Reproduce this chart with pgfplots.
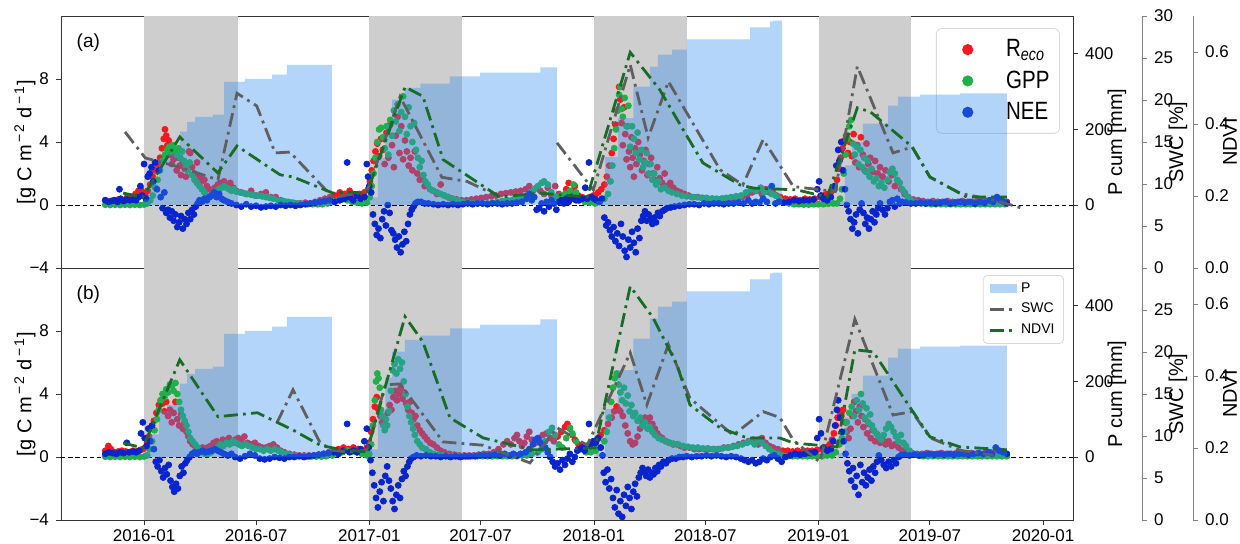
\documentclass[border=0pt]{standalone}
\usepackage{fontspec}
\setmainfont{Liberation Sans}
\usepackage{graphicx}
\usepackage{pgfplots}
\usepackage{pgfplotstable}
\pgfplotsset{compat=1.18}
\definecolor{creco}{RGB}{250,22,30}
\definecolor{cgpp}{RGB}{32,175,75}
\definecolor{cnee}{RGB}{8,36,205}
\definecolor{cp}{RGB}{50,140,240}
\definecolor{cshade}{RGB}{206,206,206}
\definecolor{cswc}{RGB}{95,95,98}
\definecolor{cndvi}{RGB}{25,108,38}
\newcommand{\tfont}{\fontsize{8.5}{10}\selectfont}
\newcommand{\lfont}{\fontsize{9.5}{11}\selectfont}
\newcommand{\lgt}[1]{\scalebox{0.82}[1]{#1}}

\pgfplotstableread[row sep=\\]{d v\\
-63 0.3\\-56 0.2\\-49 0.3\\-42 0.35\\-35 0.3\\-28 0.45\\-21 0.5\\-14 0.7\\-9 0.9\\-5 1.0\\-2 0.8\\2 0.6\\6 0.9\\10 1.3\\14 1.8\\18 2.2\\22 2.6\\26 3.0\\29 3.6\\32 4.2\\34 4.8\\36 4.4\\38 3.8\\40 4.1\\42 3.2\\45 2.6\\48 2.9\\50 3.3\\53 2.2\\56 3.0\\58 2.5\\60 1.9\\63 2.8\\66 2.3\\68 1.8\\70 2.6\\73 3.4\\75 3.3\\78 2.4\\82 2.0\\86 2.7\\90 1.8\\94 1.5\\98 1.6\\102 1.2\\106 1.0\\110 0.9\\115 1.1\\120 1.3\\125 1.4\\130 1.5\\135 1.2\\140 1.4\\145 1.1\\150 0.9\\158 0.8\\166 0.7\\174 0.9\\182 0.6\\190 0.7\\198 0.8\\206 0.5\\214 0.5\\222 0.3\\230 0.2\\238 0.15\\246 0.1\\254 0.1\\262 0.15\\270 0.1\\278 0.2\\286 0.3\\294 0.4\\302 0.5\\310 0.6\\318 0.8\\326 0.7\\334 0.9\\342 0.6\\350 0.7\\358 0.8\\364 1.0\\
367 1.5\\370 2.2\\373 2.8\\376 3.4\\379 3.9\\382 3.1\\385 4.2\\388 3.5\\391 2.6\\394 4.6\\397 3.0\\400 5.1\\403 3.8\\406 2.4\\409 4.4\\412 5.6\\415 3.3\\418 5.0\\421 2.9\\424 4.1\\427 3.4\\430 2.5\\433 3.0\\436 2.2\\440 3.4\\444 2.0\\448 1.6\\452 1.8\\456 1.2\\460 1.3\\465 1.0\\470 0.9\\476 0.7\\482 1.3\\488 0.6\\494 0.5\\500 0.4\\508 0.35\\516 0.3\\524 0.3\\532 0.35\\540 0.4\\548 0.45\\556 0.5\\564 0.55\\572 0.6\\580 0.7\\588 0.75\\596 0.8\\604 0.85\\612 0.9\\620 1.0\\626 1.2\\632 0.9\\638 1.1\\644 0.9\\650 0.7\\656 1.1\\662 0.6\\668 1.2\\674 0.7\\680 0.5\\686 1.0\\690 1.4\\695 0.9\\700 1.2\\706 0.6\\712 0.5\\718 0.4\\724 0.5\\730 0.6\\
733 0.6\\738 0.8\\743 1.0\\748 1.3\\752 1.8\\756 2.5\\760 3.3\\763 4.2\\766 5.1\\769 6.0\\772 7.5\\774 6.7\\776 5.2\\778 3.8\\780 6.2\\782 4.5\\784 2.9\\786 5.0\\788 3.4\\790 2.4\\792 4.3\\794 3.0\\796 1.8\\798 3.6\\800 2.6\\803 4.0\\806 3.2\\809 2.2\\812 2.8\\815 3.5\\818 1.9\\821 2.6\\824 3.0\\827 2.0\\830 1.6\\834 2.4\\838 1.7\\842 1.4\\846 2.0\\850 1.2\\855 1.4\\860 1.1\\866 0.9\\872 0.8\\878 0.7\\885 0.6\\892 0.5\\900 0.5\\908 0.45\\916 0.4\\924 0.4\\932 0.35\\940 0.4\\948 0.35\\956 0.4\\964 0.4\\972 0.5\\980 0.6\\988 0.8\\996 0.9\\1004 0.7\\1010 1.0\\1016 0.8\\1022 0.9\\1028 0.6\\1034 0.5\\1042 0.4\\1050 0.35\\1058 0.4\\1066 0.3\\1074 0.4\\1082 0.35\\1090 0.4\\1098 0.5\\1104 0.6\\1110 0.7\\1116 0.8\\1122 1.0\\1126 1.6\\1129 2.3\\1132 3.0\\1135 3.6\\1138 4.1\\1141 4.4\\1144 3.3\\1147 4.0\\1150 3.1\\1153 4.5\\1156 2.7\\1159 3.8\\1162 2.4\\1165 4.3\\1168 3.2\\1171 2.2\\1174 3.9\\1177 2.6\\1180 3.0\\1184 2.1\\1188 2.8\\1192 2.0\\1196 2.4\\1200 1.8\\1205 2.2\\1210 1.5\\1215 1.9\\1220 1.2\\1225 1.5\\1230 1.0\\1236 0.7\\1242 0.5\\1250 0.35\\1258 0.3\\1266 0.25\\1274 0.2\\1282 0.25\\1290 0.2\\1298 0.2\\1306 0.25\\1314 0.2\\1322 0.2\\1330 0.25\\1338 0.2\\1346 0.2\\1354 0.25\\1362 0.2\\1370 0.25\\1378 0.3\\1386 0.25\\1394 0.3\\1402 0.2\\
}\RA

\pgfplotstableread[row sep=\\]{d v\\
-63 0.02\\-55 0\\-47 0.02\\-39 0\\-31 0.02\\-23 0\\-15 0.02\\-7 0\\0 0.03\\5 0.1\\10 0.3\\14 0.6\\18 1.1\\22 1.6\\26 2.2\\30 2.8\\34 3.2\\38 3.5\\41 3.7\\44 3.4\\47 3.8\\50 3.5\\53 3.2\\56 3.6\\59 3.0\\62 3.4\\65 2.8\\68 2.5\\71 2.2\\74 2.7\\78 1.9\\82 1.6\\86 1.4\\90 1.2\\94 1.0\\98 0.8\\102 0.6\\106 0.5\\110 0.6\\114 0.8\\118 0.9\\122 1.0\\126 1.1\\130 1.2\\134 1.1\\138 1.0\\142 0.9\\146 1.0\\150 0.85\\156 0.8\\162 0.75\\168 0.7\\174 0.65\\180 0.6\\186 0.6\\192 0.55\\198 0.5\\204 0.45\\210 0.4\\218 0.3\\226 0.25\\234 0.2\\242 0.15\\250 0.1\\258 0.08\\266 0.05\\274 0.05\\282 0.05\\290 0.05\\298 0.1\\306 0.2\\314 0.3\\322 0.35\\330 0.3\\338 0.2\\346 0.15\\354 0.1\\362 0.15\\
367 0.5\\370 1.2\\373 2.0\\376 3.0\\379 4.0\\382 4.8\\385 4.9\\388 4.3\\391 3.6\\394 5.0\\397 3.2\\400 5.4\\403 4.4\\406 6.0\\409 5.3\\412 6.4\\415 4.7\\418 5.9\\421 6.9\\424 5.6\\427 4.5\\430 6.2\\433 5.0\\436 4.0\\439 5.2\\442 3.5\\445 3.0\\448 2.4\\451 2.8\\454 1.9\\457 1.5\\461 1.3\\465 1.0\\470 0.9\\476 0.8\\482 0.7\\488 0.6\\494 0.5\\502 0.4\\510 0.3\\518 0.2\\526 0.15\\534 0.1\\542 0.1\\550 0.1\\558 0.1\\566 0.15\\574 0.2\\582 0.25\\590 0.3\\598 0.3\\606 0.35\\614 0.4\\622 0.5\\628 0.8\\634 1.0\\640 1.2\\646 1.4\\650 1.5\\656 1.3\\662 0.8\\668 0.5\\676 0.6\\684 0.7\\692 0.9\\698 1.3\\702 0.8\\708 0.3\\716 0.2\\724 0.15\\
733 0.1\\741 0.2\\748 0.4\\754 0.7\\758 1.5\\761 2.5\\764 3.6\\767 4.8\\770 6.0\\772 7.0\\774 7.5\\776 6.1\\778 5.6\\781 6.8\\784 5.0\\787 6.3\\790 3.7\\793 5.0\\796 4.2\\799 3.3\\802 4.6\\805 2.9\\808 3.5\\811 2.4\\814 2.7\\817 3.3\\820 2.0\\823 2.6\\826 1.6\\829 2.0\\832 1.3\\836 1.5\\840 1.0\\846 1.1\\852 0.9\\858 0.8\\866 0.7\\874 0.6\\882 0.55\\890 0.5\\898 0.5\\906 0.45\\914 0.45\\922 0.4\\930 0.4\\938 0.4\\946 0.45\\954 0.5\\962 0.55\\970 0.6\\978 0.8\\986 1.0\\994 0.9\\1002 1.1\\1008 0.8\\1014 1.0\\1020 0.7\\1026 0.6\\1032 0.4\\1040 0.2\\1048 0.1\\1056 0.05\\1064 0.05\\1072 0.03\\1080 0.03\\1088 0.05\\1096 0.05\\1104 0.05\\1112 0.08\\1120 0.1\\1126 0.1\\1131 0.4\\1134 1.0\\1137 2.0\\1140 3.2\\1143 4.2\\1146 5.0\\1149 5.4\\1152 3.9\\1155 3.2\\1158 3.7\\1161 2.6\\1164 3.5\\1167 2.4\\1170 3.0\\1173 2.1\\1176 2.8\\1179 1.8\\1182 2.3\\1186 1.5\\1190 1.7\\1194 1.2\\1198 1.4\\1203 1.1\\1208 1.6\\1212 2.1\\1216 2.3\\1220 2.0\\1224 1.6\\1228 1.4\\1232 1.0\\1236 0.8\\1241 0.5\\1247 0.3\\1255 0.15\\1263 0.1\\1271 0.08\\1279 0.05\\1287 0.05\\1295 0.05\\1303 0.05\\1311 0.05\\1319 0.05\\1327 0.05\\1335 0.05\\1343 0.05\\1351 0.05\\1359 0.05\\1367 0.05\\1375 0.05\\1383 0.05\\1391 0.05\\1399 0.05\\
}\GA

\pgfplotstableread[row sep=\\]{d v\\
-63 0.3\\-58 0.2\\-53 0.25\\-48 0.3\\-43 0.2\\-40 1.0\\-38 0.4\\-33 0.25\\-28 0.35\\-23 0.3\\-18 0.35\\-13 0.3\\-9 0.5\\-6 1.2\\-3 0.6\\0 2.6\\3 0.4\\6 1.8\\9 2.0\\12 2.4\\15 1.5\\18 2.7\\21 1.0\\24 2.2\\27 0.5\\30 -0.2\\33 0.8\\36 -0.5\\39 -0.3\\42 -0.8\\45 -0.4\\48 -1.0\\51 -0.6\\54 -1.4\\57 -1.1\\60 -0.7\\63 -1.5\\66 -0.9\\69 -1.2\\72 -0.5\\75 -0.9\\78 -0.3\\81 -0.6\\84 -0.1\\87 0.1\\90 0.3\\94 0.2\\98 0.4\\102 0.3\\106 0.5\\110 0.6\\114 0.8\\118 0.5\\122 0.7\\126 0.4\\130 0.3\\136 0.2\\142 0.1\\150 0.0\\158 -0.1\\166 0.05\\174 -0.1\\182 -0.05\\190 -0.15\\198 -0.1\\206 -0.05\\214 -0.1\\222 0.0\\230 -0.05\\238 0.0\\246 -0.05\\254 0.0\\262 0.05\\270 0.1\\278 0.15\\286 0.2\\294 0.25\\302 0.3\\310 0.2\\318 0.3\\326 0.4\\330 2.7\\334 0.5\\340 0.3\\346 0.6\\352 0.4\\358 0.5\\362 2.6\\364 1.8\\366 1.2\\369 0.8\\
372 -0.6\\375 -1.2\\378 -1.9\\381 -1.5\\384 -2.1\\387 -0.9\\390 -0.4\\393 -1.3\\396 0.0\\399 -0.5\\402 -1.6\\405 -1.8\\408 -2.2\\411 -2.7\\414 -2.0\\417 -3.0\\420 -2.5\\423 -1.7\\426 -2.3\\429 -1.2\\432 -0.6\\435 -0.3\\438 -0.1\\441 0.1\\445 0.2\\450 0.2\\456 0.1\\462 0.1\\470 0.05\\478 0.0\\486 0.05\\494 0.0\\502 0.05\\510 0.0\\518 0.05\\526 0.1\\534 0.05\\542 0.1\\550 0.1\\558 0.05\\566 0.1\\574 0.1\\582 0.05\\590 0.1\\598 0.1\\606 0.15\\614 0.2\\622 0.4\\626 0.7\\630 0.3\\634 0.5\\638 -0.3\\642 -0.2\\646 0.1\\650 -0.4\\654 0.2\\658 -0.1\\662 0.3\\666 0.1\\670 -0.3\\674 0.2\\678 0.3\\682 0.1\\686 0.4\\690 0.2\\694 0.5\\698 0.4\\702 0.3\\706 0.3\\712 0.4\\717 1.1\\720 0.4\\723 2.7\\727 0.5\\731 0.4\\735 0.3\\740 0.2\\744 0.4\\
748 -0.8\\751 -1.3\\754 -1.1\\757 -1.6\\760 -2.0\\763 -1.4\\766 -2.3\\769 -1.8\\772 -2.6\\775 -1.2\\778 -2.0\\781 -2.9\\784 -3.3\\787 -2.2\\790 -2.7\\793 -1.7\\796 -2.4\\799 -3.0\\802 -1.5\\805 -2.1\\808 -1.0\\811 -0.7\\814 -0.4\\817 -1.0\\820 -0.6\\823 -0.9\\826 -1.2\\829 -0.8\\832 -1.1\\835 -0.5\\838 -0.7\\842 -0.4\\846 -0.3\\850 -0.2\\856 -0.15\\862 -0.1\\870 -0.05\\878 0.0\\886 0.05\\894 0.05\\902 0.0\\910 0.1\\918 0.05\\926 0.1\\934 0.1\\942 0.05\\950 0.1\\958 0.1\\966 0.15\\974 0.1\\982 0.3\\988 0.1\\994 0.2\\1000 0.15\\1006 0.4\\1012 0.2\\1020 1.2\\1026 0.1\\1032 0.2\\1040 0.15\\1048 0.2\\1056 0.3\\1064 0.25\\1072 0.3\\1080 0.3\\1088 0.35\\1094 1.0\\1097 1.5\\1100 0.6\\1104 0.4\\1110 0.3\\1116 0.5\\1122 1.2\\1125 2.5\\1128 3.5\\1130 2.8\\1133 4.0\\1136 2.2\\1139 1.0\\1142 0.0\\1145 -0.4\\1148 -0.9\\1151 -1.5\\1154 -1.1\\1157 -0.6\\1160 -1.8\\1163 -0.3\\1166 0.1\\1169 -0.5\\1172 -1.2\\1175 -0.8\\1178 -1.5\\1181 -0.9\\1184 -0.4\\1187 -1.1\\1190 -0.6\\1193 -0.2\\1196 0.1\\1200 -0.3\\1204 -0.6\\1208 -0.2\\1212 0.2\\1216 0.3\\1220 -0.1\\1224 0.4\\1228 0.1\\1232 0.2\\1238 0.15\\1246 0.1\\1254 0.1\\1262 0.15\\1270 0.1\\1278 0.15\\1286 0.1\\1294 0.15\\1302 0.2\\1310 0.1\\1318 0.15\\1326 0.2\\1334 0.15\\1342 0.2\\1350 0.1\\1358 0.2\\1366 0.15\\1374 0.3\\1380 0.2\\1386 0.5\\1392 0.3\\1398 0.2\\1402 0.1\\
}\NA

\pgfplotstableread[row sep=\\]{d v\\
-63 0.4\\-58 0.7\\-54 0.5\\-48 0.3\\-42 0.35\\-36 0.4\\-30 0.35\\-24 0.3\\-18 0.4\\-12 0.35\\-6 0.45\\-2 0.5\\2 0.6\\5 0.9\\8 1.3\\12 1.8\\16 2.3\\20 2.8\\24 3.3\\27 3.6\\30 3.4\\33 2.9\\36 3.5\\39 2.6\\42 3.0\\45 2.2\\48 2.8\\51 3.5\\54 2.4\\57 2.0\\60 2.7\\63 1.8\\66 2.2\\69 1.6\\72 1.3\\75 1.0\\79 0.8\\83 0.7\\87 0.5\\91 0.5\\95 0.6\\99 0.5\\103 0.6\\108 0.7\\113 0.9\\118 1.0\\123 0.9\\128 1.1\\133 1.0\\138 1.2\\143 0.9\\148 1.1\\153 1.2\\158 1.0\\163 1.3\\168 0.9\\174 0.8\\180 0.9\\186 0.7\\192 0.6\\198 0.6\\204 0.7\\210 0.8\\216 0.6\\222 0.4\\228 0.3\\236 0.2\\244 0.15\\252 0.1\\260 0.1\\268 0.1\\276 0.1\\284 0.15\\292 0.2\\300 0.3\\308 0.4\\316 0.5\\324 0.6\\332 0.5\\340 0.6\\348 0.5\\356 0.4\\362 0.6\\
366 0.9\\369 1.6\\372 2.4\\375 3.2\\378 3.8\\381 3.0\\384 2.6\\387 2.2\\390 2.5\\393 2.0\\396 2.8\\399 3.3\\402 3.0\\405 3.8\\408 4.2\\411 3.6\\414 4.0\\417 4.4\\420 3.7\\423 4.1\\426 3.4\\429 3.0\\432 3.5\\435 2.8\\438 2.4\\441 2.6\\444 2.0\\448 1.7\\452 1.5\\456 1.3\\460 1.1\\465 0.9\\470 0.8\\476 0.6\\482 0.4\\488 0.3\\496 0.2\\504 0.15\\512 0.1\\520 0.1\\528 0.1\\536 0.1\\544 0.15\\552 0.2\\560 0.2\\568 0.3\\576 0.5\\584 0.8\\590 1.0\\596 0.8\\602 1.2\\606 1.4\\610 1.0\\614 0.7\\618 0.9\\622 1.3\\626 1.6\\630 1.1\\636 0.9\\642 1.1\\648 1.4\\654 1.5\\660 1.2\\666 1.0\\672 1.3\\678 1.6\\684 1.9\\688 2.1\\692 1.8\\696 1.4\\700 1.1\\706 0.8\\712 0.7\\718 0.7\\724 0.8\\730 0.9\\
736 1.1\\742 1.4\\748 1.7\\754 2.1\\760 2.5\\764 2.9\\768 3.2\\771 3.0\\774 2.9\\778 2.6\\782 2.0\\786 1.5\\790 1.0\\794 0.8\\798 0.9\\802 1.3\\806 1.8\\810 2.2\\814 2.5\\818 2.3\\822 2.5\\826 2.1\\830 1.8\\834 1.5\\838 1.3\\842 1.2\\848 1.0\\854 0.9\\860 0.8\\866 0.8\\872 0.7\\878 0.6\\886 0.6\\894 0.5\\902 0.5\\910 0.5\\918 0.5\\926 0.5\\934 0.5\\942 0.6\\950 0.6\\958 0.7\\966 0.8\\974 0.9\\982 1.0\\990 1.1\\998 0.8\\1004 1.2\\1010 0.9\\1016 0.7\\1022 0.6\\1030 0.5\\1038 0.4\\1046 0.4\\1054 0.35\\1062 0.4\\1070 0.35\\1078 0.4\\1086 0.4\\1094 0.45\\1102 0.5\\1108 0.6\\1114 0.8\\1118 1.1\\1121 1.5\\1124 2.0\\1127 2.5\\1130 2.9\\1133 2.6\\1136 3.0\\1139 2.2\\1142 1.6\\1145 1.2\\1148 1.8\\1151 2.6\\1154 3.5\\1157 2.9\\1160 2.2\\1163 3.2\\1166 2.6\\1169 1.9\\1172 2.4\\1175 1.5\\1178 2.1\\1181 1.2\\1184 1.7\\1188 1.0\\1192 1.4\\1196 0.9\\1200 1.1\\1205 0.8\\1210 1.0\\1215 0.7\\1220 0.8\\1226 0.6\\1232 0.4\\1240 0.3\\1248 0.25\\1256 0.2\\1264 0.2\\1272 0.25\\1280 0.2\\1288 0.2\\1296 0.25\\1304 0.2\\1312 0.2\\1320 0.25\\1328 0.2\\1336 0.2\\1344 0.25\\1352 0.2\\1360 0.2\\1368 0.25\\1376 0.3\\1384 0.25\\1392 0.3\\1400 0.2\\
}\RB

\pgfplotstableread[row sep=\\]{d v\\
-63 0.02\\-55 0\\-47 0.02\\-39 0\\-31 0.02\\-23 0\\-15 0.02\\-7 0\\0 0.03\\5 0.1\\9 0.5\\13 1.0\\17 1.7\\21 2.4\\24 3.0\\27 3.6\\30 4.0\\33 3.8\\36 4.3\\39 4.1\\42 4.6\\45 4.5\\48 4.2\\51 4.7\\54 4.0\\57 3.5\\60 3.0\\63 2.6\\66 2.3\\69 2.0\\72 1.6\\75 1.2\\79 1.0\\83 0.8\\87 0.6\\91 0.4\\95 0.3\\99 0.2\\104 0.2\\109 0.3\\114 0.5\\119 0.6\\124 0.8\\129 0.7\\134 0.9\\139 0.8\\144 1.0\\149 0.9\\154 0.8\\159 0.7\\164 0.8\\170 0.7\\176 0.6\\182 0.5\\188 0.5\\194 0.4\\200 0.5\\206 0.4\\212 0.5\\218 0.4\\224 0.3\\232 0.2\\240 0.1\\248 0.05\\256 0.05\\264 0.03\\272 0.03\\280 0.03\\288 0.03\\296 0.05\\306 0.1\\314 0.2\\322 0.3\\330 0.4\\338 0.35\\346 0.3\\354 0.2\\362 0.1\\
366 0.2\\369 0.8\\372 2.0\\375 3.6\\377 4.8\\379 5.3\\381 5.0\\383 4.4\\385 3.0\\387 2.6\\389 2.0\\391 1.7\\393 2.4\\395 2.0\\398 2.9\\401 4.2\\404 5.5\\407 5.9\\410 5.3\\413 6.2\\416 5.6\\419 6.0\\422 4.8\\425 4.0\\428 3.2\\431 2.6\\434 2.2\\437 1.8\\440 1.4\\444 1.0\\448 0.8\\452 0.6\\458 0.5\\464 0.3\\470 0.2\\478 0.15\\486 0.1\\494 0.05\\502 0.05\\510 0.03\\518 0.03\\526 0.03\\534 0.05\\542 0.05\\550 0.05\\558 0.05\\566 0.05\\574 0.05\\582 0.05\\590 0.05\\598 0.05\\606 0.05\\614 0.1\\622 0.1\\630 0.2\\640 0.3\\646 0.5\\652 1.0\\658 1.6\\663 1.85\\668 1.4\\674 0.8\\680 0.6\\686 1.2\\692 1.85\\696 1.5\\702 1.0\\710 0.5\\718 0.3\\726 0.3\\734 0.4\\
742 0.6\\748 1.0\\752 1.6\\756 2.5\\759 3.5\\762 4.4\\765 5.0\\768 5.3\\771 4.6\\774 4.1\\777 3.6\\780 4.4\\783 3.4\\786 3.9\\789 2.9\\792 3.3\\795 2.6\\798 2.8\\802 2.3\\806 2.5\\810 2.0\\814 2.2\\818 1.8\\822 1.9\\826 1.6\\830 1.4\\836 1.2\\842 1.1\\848 1.0\\854 0.9\\860 0.85\\868 0.8\\876 0.7\\884 0.65\\892 0.6\\900 0.6\\908 0.55\\916 0.55\\924 0.5\\932 0.5\\940 0.55\\948 0.6\\956 0.65\\964 0.7\\972 0.8\\980 0.9\\986 1.0\\992 0.8\\998 1.1\\1004 0.9\\1010 0.7\\1016 0.5\\1022 0.3\\1030 0.2\\1038 0.1\\1046 0.05\\1054 0.05\\1062 0.05\\1070 0.05\\1078 0.05\\1086 0.05\\1094 0.05\\1102 0.05\\1110 0.1\\1118 0.1\\1124 0.3\\1130 0.8\\1134 1.2\\1138 1.6\\1142 2.2\\1146 2.8\\1150 3.2\\1154 2.6\\1158 3.6\\1162 3.0\\1165 4.0\\1168 3.4\\1171 2.5\\1174 3.1\\1177 2.2\\1180 2.7\\1183 2.0\\1186 1.7\\1190 1.5\\1194 1.3\\1198 1.1\\1202 1.4\\1206 1.8\\1210 2.1\\1214 1.9\\1218 1.6\\1222 1.3\\1226 1.0\\1230 1.4\\1234 0.9\\1238 0.7\\1244 0.4\\1250 0.2\\1258 0.1\\1266 0.05\\1274 0.05\\1282 0.05\\1290 0.05\\1298 0.05\\1306 0.05\\1314 0.05\\1322 0.05\\1330 0.05\\1338 0.05\\1346 0.05\\1354 0.05\\1362 0.05\\1370 0.05\\1378 0.05\\1386 0.05\\1394 0.05\\1402 0.05\\
}\GB

\pgfplotstableread[row sep=\\]{d v\\
-63 0.2\\-57 0.3\\-51 0.25\\-45 0.2\\-39 0.3\\-33 0.25\\-28 0.9\\-24 0.3\\-18 0.35\\-13 0.3\\-8 0.4\\-5 1.5\\-2 2.2\\1 1.2\\4 0.7\\7 1.8\\10 1.0\\13 2.0\\16 0.5\\19 -0.3\\22 -0.6\\25 -0.2\\28 -0.9\\31 -1.3\\34 -0.7\\37 -1.1\\40 -0.5\\43 -1.5\\46 -1.9\\49 -2.2\\52 -1.7\\55 -2.0\\58 -1.2\\61 -0.6\\64 -1.0\\67 -0.4\\70 -0.2\\74 0.0\\78 0.2\\82 0.3\\86 0.2\\90 0.3\\95 0.4\\100 0.3\\105 0.35\\110 0.4\\115 0.5\\120 0.4\\125 0.3\\130 0.2\\136 0.1\\142 0.2\\148 0.0\\156 -0.1\\164 0.05\\172 0.2\\180 0.1\\188 -0.1\\196 -0.15\\204 -0.1\\212 0.0\\220 -0.05\\228 -0.1\\236 0.0\\244 0.0\\252 0.05\\260 0.0\\268 0.05\\276 0.1\\284 0.15\\292 0.2\\300 0.25\\308 0.3\\316 0.2\\324 0.4\\330 2.1\\334 0.3\\340 0.4\\346 0.3\\352 0.5\\358 1.0\\362 1.8\\365 0.6\\
368 -0.2\\371 -1.0\\374 -1.8\\377 -2.6\\380 -3.2\\383 -2.2\\386 -1.6\\389 -2.8\\392 -1.2\\395 -0.6\\398 -1.5\\401 -2.0\\404 -2.8\\407 -3.3\\410 -2.4\\413 -1.8\\416 -2.6\\419 -1.4\\422 -0.9\\425 -1.2\\428 -0.6\\431 -0.3\\434 -0.1\\438 0.0\\443 0.1\\450 0.05\\458 0.1\\466 0.05\\474 0.05\\482 0.0\\490 0.05\\498 0.0\\506 0.05\\514 0.0\\522 0.05\\530 0.05\\538 0.05\\546 0.1\\554 0.1\\562 0.1\\570 0.15\\578 0.1\\586 0.2\\594 0.1\\600 0.2\\606 0.1\\612 0.2\\620 0.3\\626 0.5\\632 0.8\\636 1.1\\640 1.2\\644 0.9\\648 0.7\\652 0.6\\656 0.3\\660 0.0\\664 -0.3\\668 -0.6\\672 -0.4\\676 -0.8\\680 -0.2\\684 -0.5\\688 -0.1\\692 0.2\\696 -0.3\\700 0.0\\704 0.4\\708 0.5\\712 0.6\\716 0.4\\720 0.7\\723 2.1\\726 0.8\\730 1.0\\734 0.9\\738 1.2\\742 0.6\\745 0.1\\
747 -1.0\\750 -1.6\\753 -0.8\\756 -2.0\\759 -1.4\\762 -2.6\\765 -3.2\\768 -2.1\\771 -3.6\\774 -2.8\\777 -3.8\\780 -2.4\\783 -3.1\\786 -1.9\\789 -2.6\\792 -3.3\\795 -2.2\\798 -1.7\\801 -2.5\\804 -1.3\\807 -1.0\\810 -0.7\\813 -0.9\\816 -1.2\\819 -0.8\\822 -1.3\\825 -1.0\\828 -1.1\\831 -0.7\\834 -0.9\\837 -0.5\\840 -0.6\\844 -0.3\\848 -0.4\\852 -0.2\\858 -0.1\\864 -0.1\\870 0.0\\876 0.0\\882 0.05\\890 0.0\\898 0.05\\906 0.05\\914 0.1\\922 0.05\\930 0.1\\938 0.05\\946 0.0\\954 0.05\\962 0.0\\970 -0.1\\976 -0.2\\982 -0.3\\988 -0.2\\994 -0.4\\1000 -0.3\\1006 -0.1\\1012 -0.2\\1018 0.0\\1024 0.1\\1030 -0.1\\1036 -0.3\\1042 0.0\\1050 0.1\\1058 0.2\\1066 0.15\\1074 0.2\\1082 0.25\\1090 0.3\\1094 1.2\\1097 2.4\\1100 1.5\\1104 0.6\\1110 0.4\\1116 0.5\\1120 1.0\\1123 2.0\\1126 3.0\\1128 3.6\\1131 2.5\\1134 1.6\\1137 1.0\\1140 0.2\\1143 -0.4\\1146 -0.9\\1149 -1.5\\1152 -0.7\\1155 -1.9\\1158 -1.2\\1161 -2.4\\1164 -0.5\\1167 -1.6\\1170 -1.0\\1173 -1.8\\1176 -1.3\\1179 -0.8\\1182 -1.5\\1185 -0.6\\1188 -1.0\\1191 -0.3\\1194 0.1\\1198 -0.2\\1202 -0.5\\1206 -0.7\\1210 -0.3\\1214 -0.6\\1218 -0.2\\1222 -0.4\\1226 0.0\\1230 0.1\\1236 0.15\\1244 0.1\\1252 0.15\\1260 0.1\\1268 0.15\\1276 0.2\\1284 0.15\\1292 0.2\\1300 0.15\\1308 0.2\\1316 0.15\\1324 0.2\\1332 0.2\\1340 0.15\\1348 0.2\\1356 0.25\\1364 0.2\\1372 0.3\\1378 0.2\\1384 0.6\\1390 0.4\\1396 0.3\\1402 0.2\\
}\NB

\pgfplotstableread[row sep=\\]{d p\\ 0 15\\ 10 60\\ 24 122\\ 37 138\\ 58 194\\ 70 220\\ 83 233\\ 112 239\\ 130 326\\ 164 334\\ 208 345\\ 232 371\\ 305 375\\}\PA
\pgfplotstableread[row sep=\\]{d p\\ 367 20\\ 380 125\\ 392 210\\ 403 279\\ 424 310\\ 449 321\\ 497 340\\ 546 350\\ 644 364\\ 671 364\\}\PB
\pgfplotstableread[row sep=\\]{d p\\ 735 10\\ 749 127\\ 770 230\\ 795 313\\ 822 366\\ 835 398\\ 858 411\\ 882 438\\ 985 470\\ 1017 486\\ 1022 488\\ 1037 488\\}\PC
\pgfplotstableread[row sep=\\]{d p\\ 1128 10\\ 1139 105\\ 1150 167\\ 1168 215\\ 1209 263\\ 1225 287\\ 1261 292\\ 1326 295\\ 1402 297\\}\PD

\pgfplotstableread[row sep=\\]{d s\\ -31 16.2\\ 2 13.1\\ 58 12.0\\ 120 10.5\\ 151 20.8\\ 183 19.3\\ 213 13.7\\ 237 13.8\\ 307 8.4\\ 362 9.1\\ 416 20.4\\ 484 10.8\\ 525 10.3\\ 578 8.45\\ 600 nan\\ 671 14.9\\ 730 9.3\\ 790 24.2\\ 819 15.5\\ 852 22.2\\ 936 11.7\\ 973 9.9\\ 1006 15.3\\ 1055 9.7\\ 1123 9.1\\ 1159 24.0\\ 1217 13.7\\ 1248 14.4\\ 1277 10.8\\ 1326 8.9\\ 1380 8.1\\ 1428 7.1\\}\SWCA
\pgfplotstableread[row sep=\\]{d n\\ -34 0.208\\ -2 0.197\\ 58 0.364\\ 120 0.264\\ 151 0.339\\ 221 0.259\\ 242 0.253\\ 307 0.208\\ 330 0.211\\ 362 0.208\\ 424 0.503\\ 453 0.477\\ 486 0.301\\ 578 0.197\\ 643 0.208\\ 720 0.197\\ 790 0.599\\ 838 0.495\\ 876 0.384\\ 908 0.292\\ 968 0.231\\ 990 0.222\\ 1061 0.217\\ 1110 0.197\\ 1159 0.445\\ 1180 0.434\\ 1248 0.337\\ 1277 0.253\\ 1337 0.197\\ 1402 0.197\\}\NDA
\pgfplotstableread[row sep=\\]{d s\\ 216 11.6\\ 242 15.5\\ 286 9.2\\ 307 8.3\\ 330 8.1\\ 362 8.3\\ 392 16.1\\ 416 16.2\\ 486 9.3\\ 551 8.9\\ 627 6.8\\ 671 11.0\\ 720 8.9\\ 790 19.9\\ 817 13.7\\ 852 20.9\\ 887 14.5\\ 957 10.1\\ 1006 12.9\\ 1033 12.2\\ 1055 9.5\\ 1098 6.9\\ 1155 23.9\\ 1217 12.5\\ 1248 12.9\\ 1277 9.8\\ 1326 8.3\\ 1380 7.7\\}\SWCB
\pgfplotstableread[row sep=\\]{d n\\ -34 0.214\\ -2 0.200\\ 58 0.445\\ 120 0.287\\ 184 0.298\\ 242 0.250\\ 286 0.208\\ 307 0.200\\ 330 0.195\\ 362 0.189\\ 424 0.565\\ 453 0.495\\ 497 0.284\\ 551 0.228\\ 632 0.195\\ 733 0.200\\ 790 0.649\\ 827 0.562\\ 866 0.431\\ 887 0.320\\ 936 0.256\\ 980 0.228\\ 1033 0.228\\ 1055 0.214\\ 1126 0.203\\ 1155 0.473\\ 1185 0.467\\ 1245 0.312\\ 1277 0.231\\ 1326 0.203\\ 1402 0.195\\}\NDB

\pgfplotsset{
 common/.style={scale only axis, height=126pt, xmin=-135, tick align=outside, major tick length=2.5pt,
   tick label style={font=\tfont}, label style={font=\lfont}, /pgf/number format/assume math mode=true},
 mainax/.style={common, width=506pt, xmax=1509.6, ymin=-4, ymax=12, ytick={-4,0,4,8}, yticklabels={−4,0,4,8},
   ytick pos=left, axis line style={black!80}, every tick/.style={black!80},
   ylabel={[g C m\textsuperscript{\,−\,2} d\textsuperscript{\,−\,1}]},
   every axis y label/.style={at={(axis description cs:0,0.5)}, xshift=-18pt, rotate=90, anchor=center}},
 pax/.style={common, width=506pt, xmax=1509.6, ymin=-166.667, ymax=500, axis x line=none, axis y line*=right,
   ytick={0,200,400}, axis line style={black!80}, every tick/.style={black!80}, ylabel={P cum [mm]},
   every axis y label/.style={at={(axis description cs:1,0.5)}, xshift=22pt, rotate=90, anchor=center}},
 swcax/.style={common, width=540.5pt, xmax=1621.6, ymin=0, ymax=30, axis x line=none, axis y line*=right,
   axis line style={black!50}, every tick/.style={black!50}, ylabel={SWC [\%]}, unbounded coords=jump,
   every axis y label/.style={at={(axis description cs:1,0.5)}, xshift=18pt, rotate=90, anchor=center}},
 ndviax/.style={common, width=566pt, xmax=1704.5, ymin=0, ymax=0.7, axis x line=none, axis y line*=right,
   ytick={0,0.2,0.4,0.6}, yticklabels={0.0,0.2,0.4,0.6},
   axis line style={black!50}, every tick/.style={black!50}, ylabel={NDVI},
   every axis y label/.style={at={(axis description cs:1,0.5)}, xshift=18.5pt, rotate=90, anchor=center}},
 sc/.style={only marks, mark=*, mark size=1.5pt, forget plot},
 dd/.style={line width=1.4pt, dash pattern=on 7pt off 2.6pt on 1.4pt off 2.6pt, forget plot},
 pfill/.style={const plot, fill=cp, fill opacity=0.37, draw=none, forget plot},
 shade/.style={fill=cshade, draw=none, forget plot},
 lineleg/.style={legend image code/.code={\draw[##1] (0pt,0pt) -- (13pt,0pt);}},
 patchleg/.style={legend image code/.code={\path[fill=cp, fill opacity=0.37, draw=none, sharp corners] (0pt,-2.2pt) rectangle (13.5pt,2.2pt);}},
 markleg/.style={legend image code/.code={\path (-12.5pt,0pt) (17pt,0pt); \fill[##1, draw=none] (0pt,0pt) circle (2.8pt);}},
}

\begin{document}
\begin{tikzpicture}
% ---------------- panel (a) ----------------
\begin{axis}[mainax, at={(30.5pt,137.5pt)}, anchor=south west, xmajorticks=false,
  legend style={at={(0.987,0.952)}, anchor=north east, draw=black!15, rounded corners=2.5pt, fill=white,
    font=\fontsize{12.5}{15}\selectfont, inner xsep=3pt, inner ysep=3.5pt, row sep=1.5pt}, legend cell align=left]
\addplot[shade] coordinates {(0,-4) (0,12) (152,12) (152,-4)} -- cycle;
\addplot[shade] coordinates {(366,-4) (366,12) (517,12) (517,-4)} -- cycle;
\addplot[shade] coordinates {(731,-4) (731,12) (882,12) (882,-4)} -- cycle;
\addplot[shade] coordinates {(1096,-4) (1096,12) (1247,12) (1247,-4)} -- cycle;
\addplot[black, line width=0.5pt, dash pattern=on 2.2pt off 1.4pt, forget plot] coordinates {(-135,0) (1509.6,0)};
\addplot[sc, creco] table[x=d,y=v] {\RA};
\addplot[sc, cgpp] table[x=d,y=v] {\GA};
\addplot[sc, cnee] table[x=d,y=v] {\NA};
\addlegendimage{creco, markleg}
\addlegendentry{\lgt{R\textsubscript{\textit{eco}}}}
\addlegendimage{cgpp, markleg}
\addlegendentry{\lgt{GPP}}
\addlegendimage{cnee, markleg}
\addlegendentry{\lgt{NEE}}
\node[font=\lfont] at (rel axis cs:0.027,0.893) {(a)};
\end{axis}
\begin{axis}[pax, at={(30.5pt,137.5pt)}, anchor=south west]
\addplot[pfill] table[x=d,y=p] {\PA} \closedcycle;
\addplot[pfill] table[x=d,y=p] {\PB} \closedcycle;
\addplot[pfill] table[x=d,y=p] {\PC} \closedcycle;
\addplot[pfill] table[x=d,y=p] {\PD} \closedcycle;
\end{axis}
\begin{axis}[swcax, at={(30.5pt,137.5pt)}, anchor=south west, ytick={0,5,...,30}]
\addplot[dd, cswc] table[x=d,y=s] {\SWCA};
\end{axis}
\begin{axis}[ndviax, at={(30.5pt,137.5pt)}, anchor=south west]
\addplot[dd, cndvi] table[x=d,y=n] {\NDA};
\end{axis}
% ---------------- panel (b) ----------------
\begin{axis}[mainax, at={(30.5pt,11.5pt)}, anchor=south west, xtick pos=bottom,
  xtick={0,182,366,547,731,912,1096,1277,1461},
  xticklabels={2016-01,2016-07,2017-01,2017-07,2018-01,2018-07,2019-01,2019-07,2020-01},
  xticklabel style={yshift=1pt}]
\addplot[shade] coordinates {(0,-4) (0,12) (152,12) (152,-4)} -- cycle;
\addplot[shade] coordinates {(366,-4) (366,12) (517,12) (517,-4)} -- cycle;
\addplot[shade] coordinates {(731,-4) (731,12) (882,12) (882,-4)} -- cycle;
\addplot[shade] coordinates {(1096,-4) (1096,12) (1247,12) (1247,-4)} -- cycle;
\addplot[black, line width=0.5pt, dash pattern=on 2.2pt off 1.4pt, forget plot] coordinates {(-135,0) (1509.6,0)};
\addplot[sc, creco] table[x=d,y=v] {\RB};
\addplot[sc, cgpp] table[x=d,y=v] {\GB};
\addplot[sc, cnee] table[x=d,y=v] {\NB};
\node[font=\lfont] at (rel axis cs:0.027,0.893) {(b)};
\end{axis}
\begin{axis}[pax, at={(30.5pt,11.5pt)}, anchor=south west]
\addplot[pfill] table[x=d,y=p] {\PA} \closedcycle;
\addplot[pfill] table[x=d,y=p] {\PB} \closedcycle;
\addplot[pfill] table[x=d,y=p] {\PC} \closedcycle;
\addplot[pfill] table[x=d,y=p] {\PD} \closedcycle;
\end{axis}
\begin{axis}[swcax, at={(30.5pt,11.5pt)}, anchor=south west, ytick={0,5,...,25}]
\addplot[dd, cswc] table[x=d,y=s] {\SWCB};
\end{axis}
\begin{axis}[ndviax, at={(30.5pt,11.5pt)}, anchor=south west,
  legend style={at={(0.886,0.972)}, anchor=north east, draw=black!15, rounded corners=2pt, fill=white,
    font=\fontsize{7}{8.5}\selectfont, inner xsep=2.5pt, inner ysep=1.5pt,
    /tikz/every even column/.append style={column sep=5pt}}, legend cell align=left]
\addplot[dd, cndvi] table[x=d,y=n] {\NDB};
\addlegendimage{patchleg}
\addlegendentry{P}
\addlegendimage{cswc, line width=1.4pt, dash pattern=on 7pt off 2.6pt on 1.4pt off 2.6pt, lineleg}
\addlegendentry{SWC}
\addlegendimage{cndvi, line width=1.4pt, dash pattern=on 7pt off 2.6pt on 1.4pt off 2.6pt, lineleg}
\addlegendentry{NDVI}
\end{axis}
\pgfresetboundingbox
\useasboundingbox (0,0) rectangle (620pt,271.5pt);
\end{tikzpicture}
\end{document}
